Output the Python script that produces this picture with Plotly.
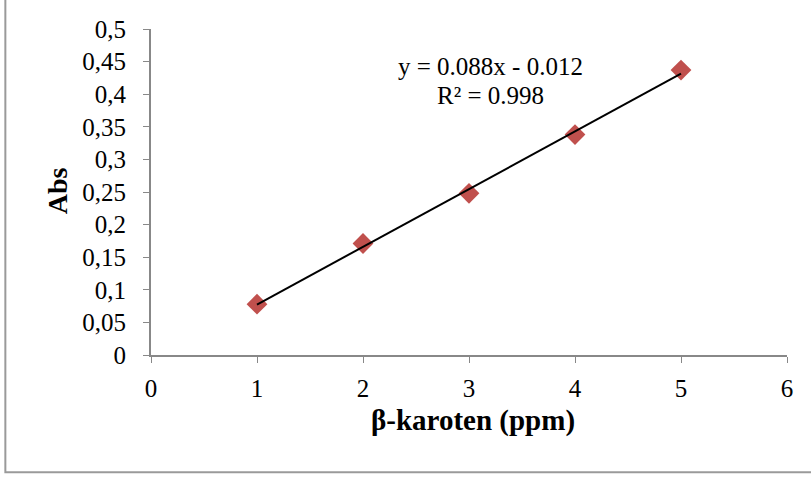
import numpy as np
import plotly.graph_objects as go

concentration = [1, 2, 3, 4, 5]
absorbance = [0.078, 0.171, 0.248, 0.338, 0.437]
x_ticks = [0, 1, 2, 3, 4, 5, 6]
y_ticks = [0, 0.05, 0.1, 0.15, 0.2, 0.25, 0.3, 0.35, 0.4, 0.45, 0.5]
y_tick_labels = ["0", "0,05", "0,1", "0,15", "0,2", "0,25", "0,3", "0,35", "0,4", "0,45", "0,5"]
equation_text = "y = 0.088x - 0.012"
r2_text = "R² = 0.998"
x_title = "<b>β-karoten (ppm)</b>"
y_title = "<b>Abs</b>"

slope, intercept = np.polyfit(concentration, absorbance, 1)
trend_x = [min(concentration), max(concentration)]
trend_y = [slope * v + intercept for v in trend_x]

FONT = "Liberation Serif"

fig = go.Figure()
fig.add_trace(go.Scatter(x=concentration, y=absorbance, mode="markers",
                         marker=dict(symbol="diamond", size=16, color="#C0504D"),
                         showlegend=False))
fig.add_trace(go.Scatter(x=trend_x, y=trend_y, mode="lines",
                         line=dict(color="black", width=2), showlegend=False))

fig.add_annotation(x=3.2, y=0.442, text=equation_text, showarrow=False,
                   font=dict(family=FONT, size=25, color="black"))
fig.add_annotation(x=3.2, y=0.398, text=r2_text, showarrow=False,
                   font=dict(family=FONT, size=25, color="black"))

# axis titles
fig.add_annotation(xref="paper", yref="paper", x=0.507, y=-0.2, text=x_title,
                   showarrow=False, xanchor="center", yanchor="middle",
                   font=dict(family=FONT, size=29, color="black"))
fig.add_annotation(xref="paper", yref="paper", x=-0.148, y=0.505, text=y_title,
                   showarrow=False, xanchor="center", yanchor="middle", textangle=-90,
                   font=dict(family=FONT, size=28, color="black"))

# chart border
fig.add_shape(type="rect", xref="paper", yref="paper",
              x0=-0.229, x1=1.1, y0=-0.36, y1=1.2,
              line=dict(color="#9a9a9a", width=2), layer="below")

fig.update_layout(
    width=811, height=477,
    margin=dict(l=151, r=24, t=29, b=122),
    paper_bgcolor="white", plot_bgcolor="white",
    font=dict(family=FONT, size=25, color="black"),
    xaxis=dict(range=[0, 6], tickvals=x_ticks, ticks="outside", ticklen=6,
               tickcolor="#888888", showline=True, linecolor="#888888", linewidth=2,
               showgrid=False, zeroline=False, ticklabelstandoff=4,
               tickfont=dict(family=FONT, size=25)),
    yaxis=dict(range=[0, 0.5], tickvals=y_ticks, ticktext=y_tick_labels, ticks="outside",
               ticklen=6, tickcolor="#888888", showline=True, linecolor="#888888", linewidth=2,
               showgrid=False, zeroline=False, ticklabelstandoff=12,
               tickfont=dict(family=FONT, size=25)),
)

fig.write_html("out.html")
